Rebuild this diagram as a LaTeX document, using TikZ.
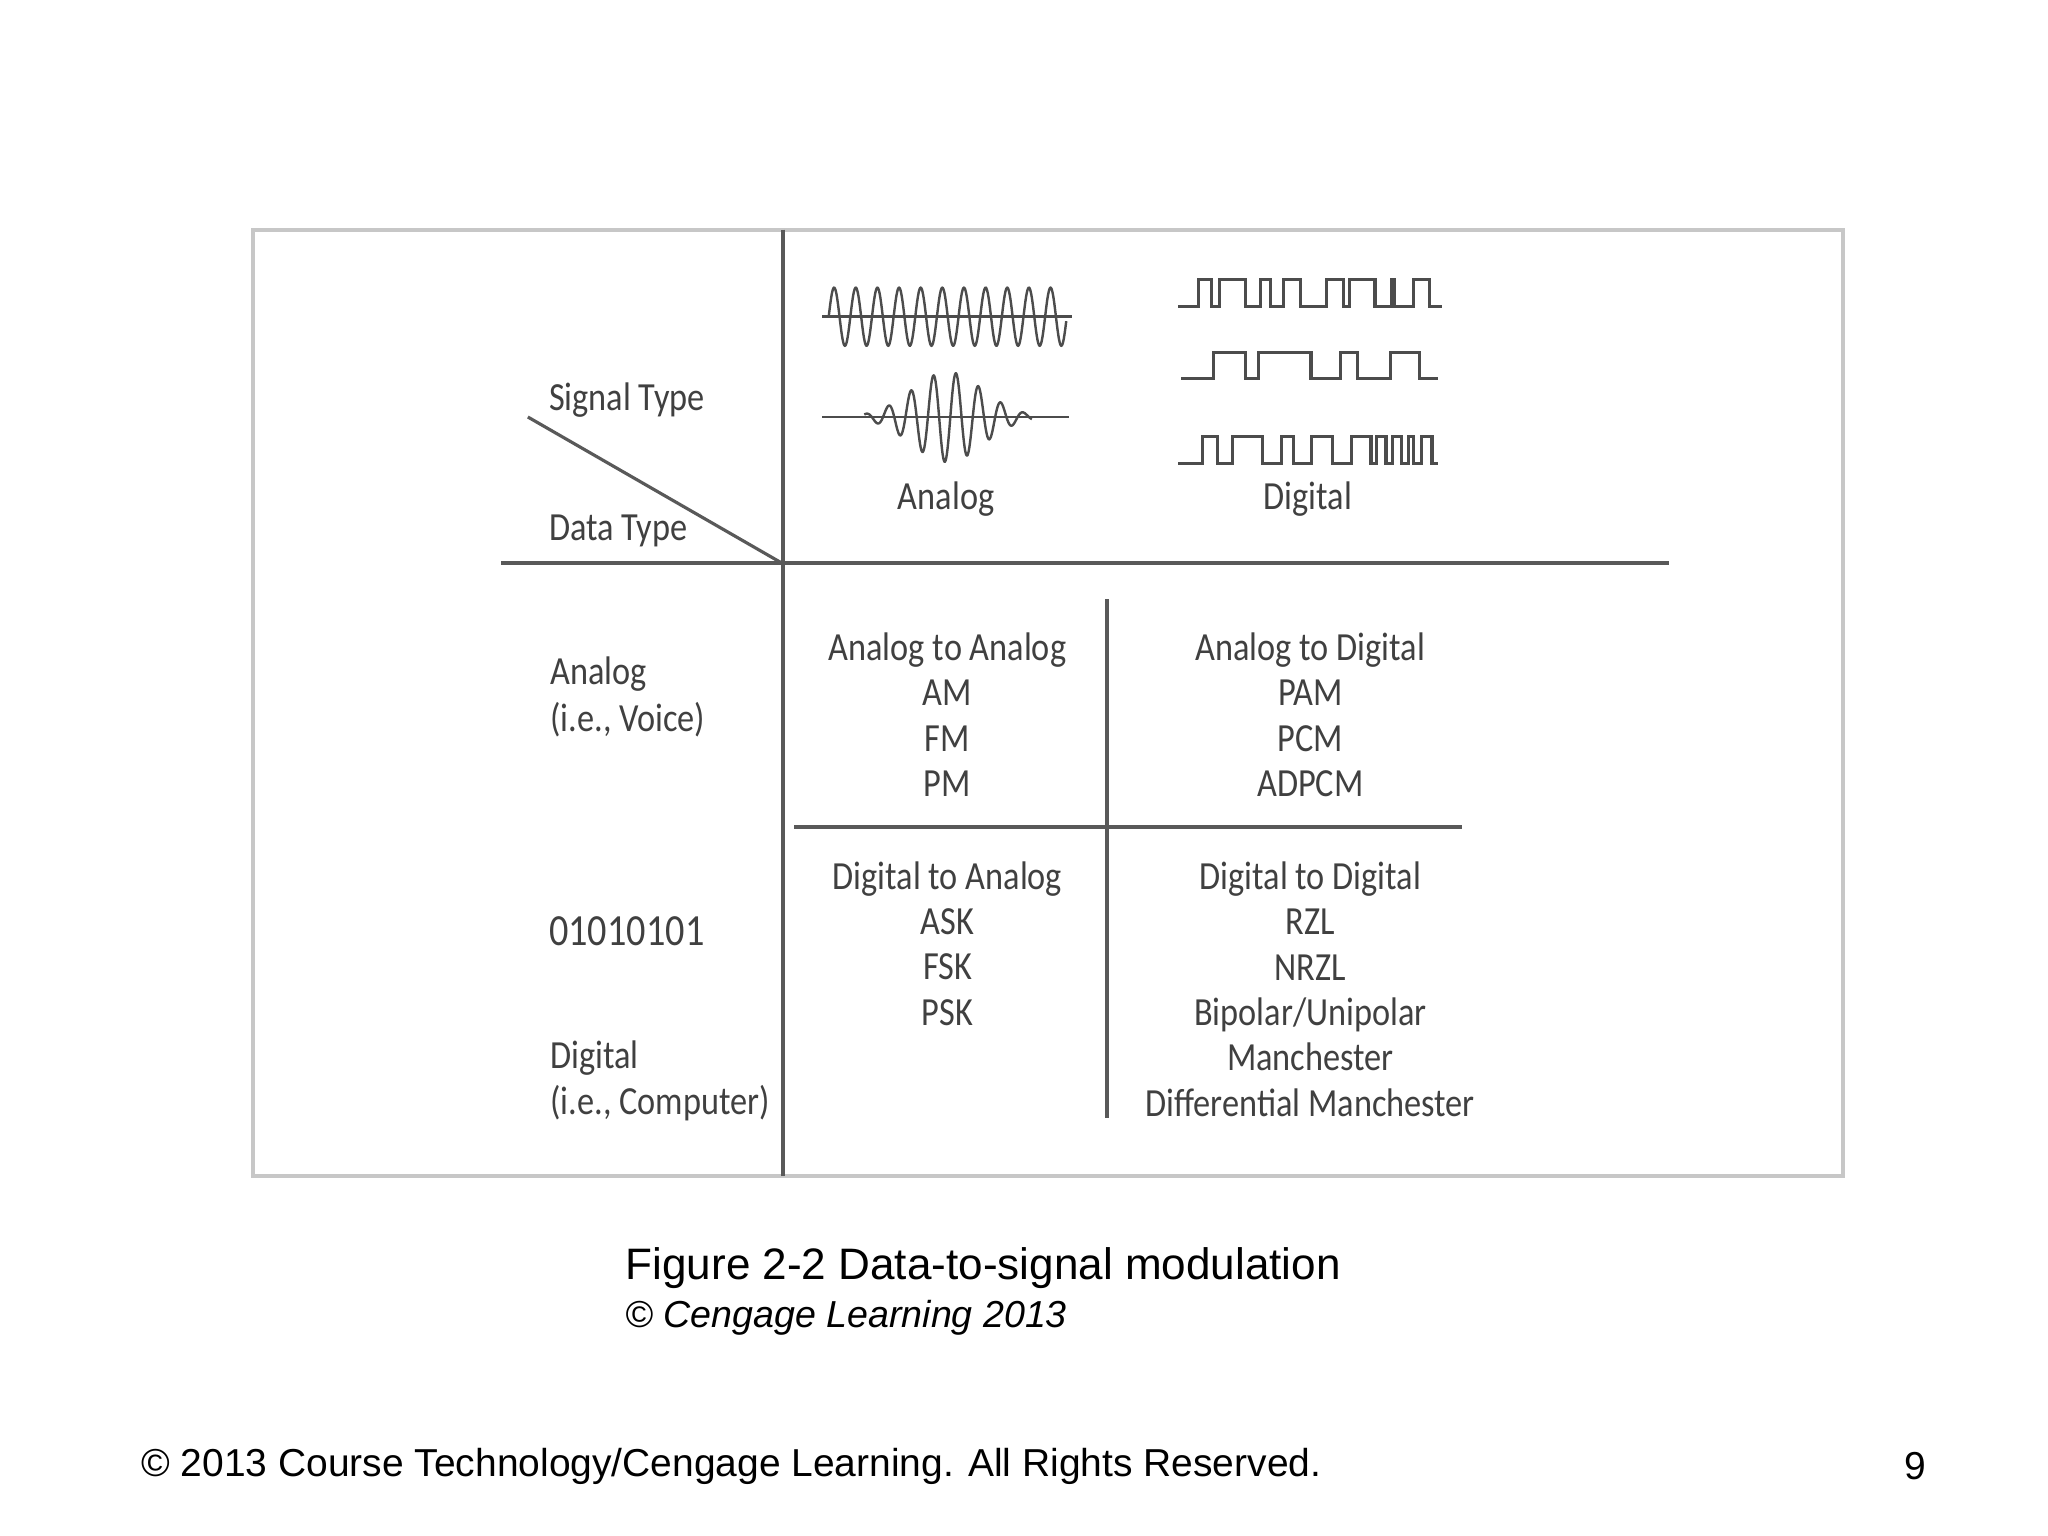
\documentclass[tikz,border=0pt]{standalone}
\usepackage{fontspec}
\setmainfont{Carlito}[FakeStretch=0.86]
\newfontfamily\arialf{Liberation Sans}
\begin{document}
\begin{tikzpicture}[x=0.05cm,y=-0.05cm,
  ln/.style={draw=black!65,line width=4.3pt},
  wv/.style={draw=black!70,line width=2.6pt},
  dg/.style={draw=black!70,line width=3.4pt},
  tx/.style={text=black!75,font=\fontsize{43}{49}\selectfont,inner sep=0pt},
  captxt/.style={font=\arialf\fontsize{47.5}{52}\selectfont,inner sep=0pt,anchor=west}]
\useasboundingbox (0,0) rectangle (1552,1164);
\fill[white] (0,0) rectangle (1552,1164);
\draw[draw=black!22,line width=4.3pt] (192,174) rectangle (1397,891);
\coordinate (vt) at (593,174); \coordinate (vb) at (593,891);
\draw[ln] (vt) -- (vb);
\coordinate (hl) at (380,427); \coordinate (hr) at (1265,427);
\draw[ln] (hl) -- (hr);
\coordinate (d1) at (400,316); \coordinate (d2) at (593,427);
\draw[ln,line width=3.4pt] (d1) -- (d2);
\coordinate (it) at (839,454); \coordinate (ib) at (839,847);
\draw[ln] (it) -- (ib);
\coordinate (il) at (602,627); \coordinate (ir) at (1108,627);
\draw[ln] (il) -- (ir);
% analog waves
\coordinate (a1l) at (623,240); \coordinate (a1r) at (812,240);
\draw[wv,line width=3.2pt] (a1l) -- (a1r);
\draw[wv,domain=628:808,samples=500,smooth] plot (\x,{240-22*sin((\x-628)/16.4*360)});
\coordinate (a2l) at (623,316); \coordinate (a2r) at (810,316);
\draw[wv,line width=3.2pt] (a2l) -- (a2r);
\draw[wv,domain=655:782,samples=500,smooth] plot (\x,{316-34*exp(-((\x-718)/38)^2)*sin((\x-655)/17*360+60)});
% digital waves
\draw[dg,shift={(619.4,0)},xscale=0.3226] (848,232) -| (895,212) -| (925,232) -| (945,212) -| (1005,232) -| (1040,212) -| (1065,232) -| (1095,212) -| (1135,232) -| (1195,212) -| (1235,232) -| (1250,212) -| (1310,232) -| (1348,212) -| (1355,232) -| (1400,212) -| (1438,232) -- (1468,232);
\draw[dg,shift={(620.8,0)},xscale=0.3218] (852,287) -| (928,267) -| (1003,287) -| (1035,267) -| (1158,287) -| (1228,267) -| (1268,287) -| (1345,267) -| (1413,287) -- (1458,287);
\draw[dg,shift={(619.1,0)},xscale=0.323] (848,351) -| (905,331) -| (940,351) -| (975,331) -| (1045,351) -| (1090,331) -| (1118,351) -| (1160,331) -| (1210,351) -| (1255,331) -| (1300,351) -| (1312,331) -| (1335,351) -| (1350,331) -| (1372,351) -| (1388,331) -| (1400,351) -| (1418,331) -| (1443,351) -- (1458,351);
% texts
\node[tx,anchor=west] (st) at (416,303) {Signal Type};
\node[tx,anchor=west] (dt) at (416,402) {Data Type};
\node[tx] (an) at (717,378) {Analog};
\node[tx] (di) at (991,378) {Digital};
\node[tx,anchor=west] (r1a) at (417,511) {Analog};
\node[tx,anchor=west] (r1b) at (417,545) {(i.e., Voice)};
\node[tx,anchor=west,font=\fontsize{48}{52}\selectfont] (bits) at (416,706) {01010101};
\node[tx,anchor=west] (r2a) at (417,802) {Digital};
\node[tx,anchor=west] (r2b) at (417,836) {(i.e., Computer)};
\node[tx,align=center] (c1) at (718,541.5) {Analog to Analog\\AM\\FM\\PM};
\node[tx,align=center] (c2) at (993,541.5) {Analog to Digital\\PAM\\PCM\\ADPCM};
\node[tx,align=center] (c3) at (718,715) {Digital to Analog\\ASK\\FSK\\PSK};
\node[tx,align=center] (c4) at (993,749.5) {Digital to Digital\\RZL\\NRZL\\Bipolar/Unipolar\\Manchester\\Differential Manchester};
\node[captxt] (fig) at (474,961) {Figure 2-2 Data-to-signal modulation};
\node[captxt,font=\arialf\itshape\fontsize{40.5}{44}\selectfont] (cl) at (474,999) {© Cengage Learning 2013};
\node[captxt,font=\arialf\fontsize{42}{46}\selectfont] (ft) at (107,1111) {© 2013 Course Technology/Cengage Learning. All Rights Reserved.};
\node[captxt,font=\arialf\fontsize{42}{46}\selectfont] (pg) at (1443,1111) {9};
\end{tikzpicture}
\end{document}
